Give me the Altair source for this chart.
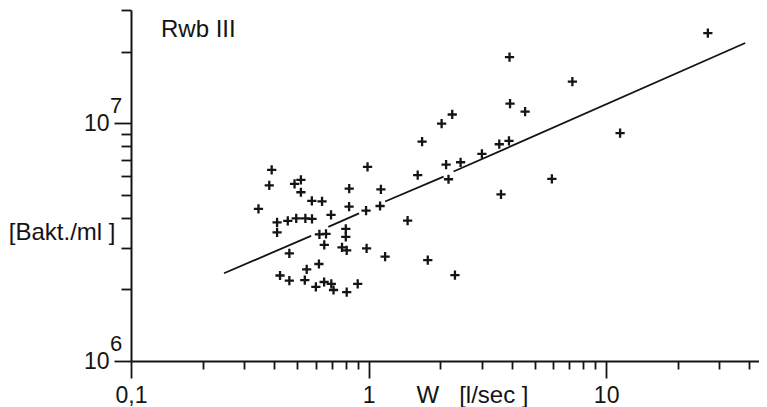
import altair as alt
import pandas as pd

# Scatter data: W [l/sec] and bacteria count [Bakt./ml]
W = [0.391, 0.382, 0.488, 0.519, 0.519, 0.344, 0.577, 0.637, 0.829, 0.990,
     1.127, 0.412, 0.412, 0.457, 0.496, 0.542, 0.578, 0.695, 0.828, 0.976,
     1.118, 1.46, 0.621, 0.662, 0.802, 0.802, 0.651, 0.773, 0.809, 0.981,
     0.464, 1.174, 1.775, 0.618, 0.549, 0.539, 2.31, 0.424, 0.464, 0.600,
     0.650, 0.697, 0.712, 0.809, 0.900,
     26.8, 3.92, 7.21, 3.94, 4.56, 2.25, 2.03, 1.68, 11.45, 3.55,
     3.90, 3.00, 2.44, 2.12, 2.17, 1.61, 5.91, 3.61]
B = [6.37e6, 5.48e6, 5.56e6, 5.78e6, 5.13e6, 4.37e6, 4.72e6, 4.70e6, 5.31e6, 6.56e6,
     5.28e6, 3.83e6, 3.48e6, 3.89e6, 3.98e6, 3.98e6, 3.96e6, 4.12e6, 4.46e6, 4.29e6,
     4.49e6, 3.90e6, 3.41e6, 3.43e6, 3.60e6, 3.33e6, 3.08e6, 3.01e6, 2.92e6, 2.98e6,
     2.84e6, 2.75e6, 2.66e6, 2.56e6, 2.43e6, 2.19e6, 2.30e6, 2.29e6, 2.18e6, 2.05e6,
     2.15e6, 2.11e6, 1.99e6, 1.95e6, 2.11e6,
     2.40e7, 1.90e7, 1.50e7, 1.21e7, 1.12e7, 1.09e7, 9.98e6, 8.38e6, 9.09e6, 8.17e6,
     8.44e6, 7.44e6, 6.86e6, 6.71e6, 5.82e6, 6.06e6, 5.84e6, 5.03e6]

# Regression line, drawn in broken segments as in the original
line_W = [0.2464, 0.573, 0.677, 0.912, 1.174, 2.07, 2.28, 38.5]
line_B = [2.34e6, 3.36e6, 3.67e6, 4.18e6, 4.69e6, 5.97e6, 6.27e6, 2.18e7]
line_seg = ["a", "a", "b", "b", "c", "c", "d", "d"]

# Axis ticks
x_ticks = [0.1, 0.2, 0.3, 0.4, 0.5, 0.6, 0.7, 0.8, 0.9,
           1, 2, 3, 4, 5, 6, 7, 8, 9, 10, 20, 30, 40]
y_ticks = [1e6, 2e6, 3e6, 4e6, 5e6, 6e6, 7e6, 8e6, 9e6, 1e7, 2e7, 3e7]
y_major = [1e6, 1e7]
y_exponents = ["6", "7"]

FONT = "Liberation Sans"
INK = "#141414"

xscale = alt.Scale(type="log", domain=[0.1, 44], nice=False)
yscale = alt.Scale(type="log", domain=[1e6, 3e7], nice=False)

xaxis = alt.Axis(
    values=x_ticks,
    labelExpr="datum.value == 0.1 ? '0,1' : (datum.value == 1 ? '1' : (datum.value == 10 ? '10' : ''))",
    tickSize={"condition": {"test": "datum.value == 0.1 || datum.value == 1 || datum.value == 10", "value": 17}, "value": 8},
    labelPadding=6,
    labelFlush=False,
    labelOverlap=False,
    title="W\u00a0\u00a0\u00a0[l/sec ]",
    titleX=341, titleY=41, titleAlign="center", titleBaseline="alphabetic",
    titleFontSize=24,
    grid=False,
)
yaxis = alt.Axis(
    values=y_ticks,
    labelExpr="(datum.value == 1000000 || datum.value == 10000000) ? '10' : ''",
    tickSize={"condition": {"test": "datum.value == 1000000 || datum.value == 10000000", "value": 17}, "value": 10},
    labelPadding=5,
    labelOverlap=False,
    labelFlush=False,
    title="[Bakt./ml ]",
    titleAngle=0, titleX=-16, titleY=222, titleAlign="right", titleBaseline="middle",
    titleFontSize=24,
    grid=False,
)

pts = pd.DataFrame({"W": W, "B": B})
lines = pd.DataFrame({"W": line_W, "B": line_B, "seg": line_seg})
exps = pd.DataFrame({"B": y_major, "e": y_exponents})

points = alt.Chart(pts).mark_point(
    shape="M-1,0H1M0,-1V1", filled=False, strokeWidth=2.3, size=85,
    color=INK, opacity=1,
).encode(
    x=alt.X("W:Q", scale=xscale, axis=xaxis),
    y=alt.Y("B:Q", scale=yscale, axis=yaxis),
)

reg = alt.Chart(lines).mark_line(color=INK, strokeWidth=1.8).encode(
    x=alt.X("W:Q", scale=xscale),
    y=alt.Y("B:Q", scale=yscale),
    detail="seg:N",
)

exp_text = alt.Chart(exps).mark_text(
    align="left", baseline="middle", dy=-17, fontSize=22, font=FONT, color=INK,
).encode(
    x=alt.value(-21),
    y=alt.Y("B:Q", scale=yscale),
    text="e:N",
)

label = alt.Chart(pd.DataFrame({"t": ["Rwb III"]})).mark_text(
    align="left", baseline="middle", fontSize=24, font=FONT, color=INK,
).encode(
    x=alt.value(30), y=alt.value(19.5), text="t:N",
)

chart = alt.layer(points, reg, exp_text, label).properties(
    width=628, height=351,
    autosize=alt.AutoSizeParams(type="none"),
    padding={"left": 123, "top": 2, "right": 0, "bottom": 46},
    background="white",
).configure_view(stroke=None).configure_axis(
    domainColor=INK, domainWidth=2, tickColor=INK, tickWidth=1.8,
    labelFont=FONT, labelFontSize=23, labelColor=INK,
    titleFont=FONT, titleFontSize=23, titleColor=INK, titleFontWeight="normal",
)

chart.save("out.html", embed_options={"renderer": "svg", "actions": False})
